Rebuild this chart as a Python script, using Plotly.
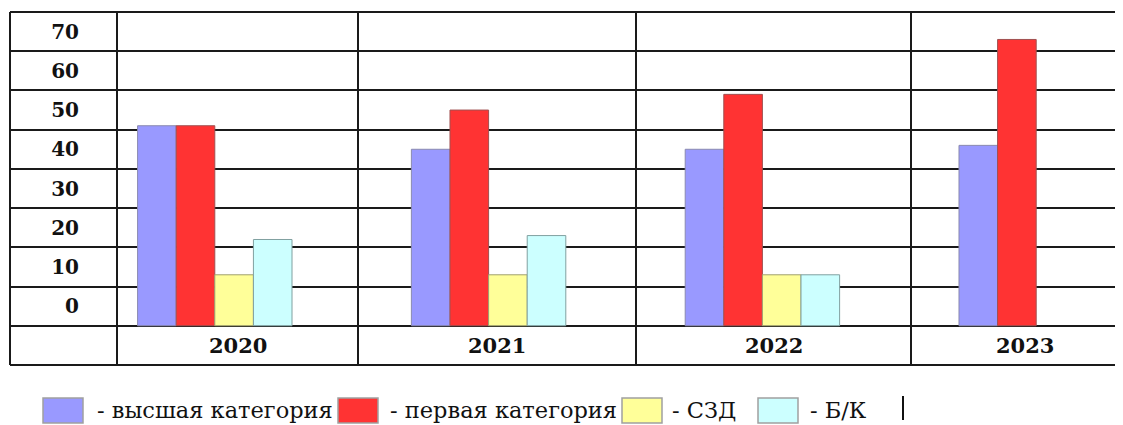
import plotly.graph_objects as go

# ---------------- data ----------------
categories = ["2020", "2021", "2022", "2023"]
series_names = ["высшая категория", "первая категория", "СЗД", "Б/К"]
vysshaya = [46, 40, 40, 41]
pervaya = [46, 50, 54, 68]
szd = [8, 8, 8, None]
bk = [17, 18, 8, None]
y_tick_values = [0, 10, 20, 30, 40, 50, 60, 70]

series_values = [vysshaya, pervaya, szd, bk]
colors = ["#9999FF", "#FF3333", "#FFFF99", "#CCFFFF"]
edge_colors = ["#8a8ab0", "#a05050", "#a0a070", "#80a0a0"]

# ---------------- layout geometry ----------------
# The page has an 8px body margin, so page pixel = figure pixel + OFF.
OFF = 8
PAGE_W, PAGE_H = 1123, 425
W, H = PAGE_W - OFF, PAGE_H - OFF
PLOT_LEFT, PLOT_TOP, PLOT_BOTTOM, PLOT_RIGHT = 10, 12, 365, 1123   # page pixels
L = PLOT_LEFT - OFF
T = PLOT_TOP - OFF
B = PAGE_H - PLOT_BOTTOM
R = PAGE_W - PLOT_RIGHT
PW = W - L - R
PH = H - T - B
BASE = -5          # bars start on the line under the "0" row


def px_x(px):
    return (px - PLOT_LEFT) / PW


def px_y(py):
    return (PLOT_BOTTOM - py) / PH


fig = go.Figure()
for name, vals, col, ec in zip(series_names, series_values, colors, edge_colors):
    fig.add_trace(go.Bar(
        x=categories,
        y=[None if v is None else v - BASE for v in vals],
        base=BASE,
        name=name,
        marker=dict(color=col, line=dict(color=ec, width=1)),
        customdata=vals,
        hovertemplate="%{x}: %{customdata}<extra>" + name + "</extra>",
    ))

grid_color = "#1a1a1a"
line_w = 2

# table lines (borders and column separators)
shapes = []
shapes.append(dict(type="line", xref="paper", yref="paper", x0=0, x1=1, y0=1, y1=1,
                   line=dict(color=grid_color, width=line_w)))
shapes.append(dict(type="line", xref="paper", yref="paper", x0=0, x1=1, y0=0, y1=0,
                   line=dict(color=grid_color, width=line_w)))
col_sep_px = [10, 117, 358, 636, 911]
for cx in col_sep_px:
    shapes.append(dict(type="line", xref="paper", yref="paper", x0=px_x(cx), x1=px_x(cx),
                       y0=0, y1=1, line=dict(color=grid_color, width=line_w)))

# year labels centred in the table cells of the bottom row
cell_edges_px = [117, 358, 636, 911, 1138]
annotations = []
for i, cat in enumerate(categories):
    cx = (cell_edges_px[i] + cell_edges_px[i + 1]) / 2
    annotations.append(dict(x=px_x(cx), xref="paper", y=-10, yref="y", text="<b>" + cat + "</b>",
                            showarrow=False, xanchor="center", yanchor="middle",
                            font=dict(family="DejaVu Serif", size=21, color="#111")))

# custom legend (large swatches, "- name")
swatch_x_px = [43, 338, 622, 758]
text_x_px = [95, 388, 670, 808]
sw_w, sw_top, sw_bot = 40, 398, 423
for i, name in enumerate(series_names):
    shapes.append(dict(type="rect", xref="paper", yref="paper",
                       x0=px_x(swatch_x_px[i]), x1=px_x(swatch_x_px[i] + sw_w),
                       y0=px_y(sw_bot), y1=px_y(sw_top),
                       fillcolor=colors[i], line=dict(color="#a0a0a0", width=1.5)))
    annotations.append(dict(x=px_x(text_x_px[i]), xref="paper", y=px_y(410), yref="paper",
                            text="- " + name, showarrow=False, xanchor="left", yanchor="middle",
                            font=dict(family="DejaVu Serif", size=22.5, color="#111")))
# text cursor mark after the legend
shapes.append(dict(type="line", xref="paper", yref="paper", x0=px_x(903), x1=px_x(903),
                   y0=px_y(420), y1=px_y(396), line=dict(color="#111", width=2)))

unit = 273.8      # category spacing in pixels
c0 = 214.8        # page x of the first category centre
fig.update_layout(
    width=W, height=H,
    margin=dict(l=L, r=R, t=T, b=B),
    paper_bgcolor="white", plot_bgcolor="white",
    barmode="group", bargap=0.436, bargroupgap=0,
    showlegend=False,
    shapes=shapes,
    annotations=annotations,
    xaxis=dict(type="category", categoryorder="array", categoryarray=categories,
               range=[(PLOT_LEFT - c0) / unit, (PLOT_RIGHT - c0) / unit],
               showticklabels=False, showgrid=False, showline=False, zeroline=False, ticks=""),
    yaxis=dict(range=[-15, 75], tickmode="array", tickvals=y_tick_values,
               ticktext=[str(v) for v in y_tick_values],
               anchor="free", position=px_x(79), side="left",
               showgrid=False, zeroline=False, showline=False, ticks="",
               tickfont=dict(family="DejaVu Serif", size=20, color="#111", weight="bold"),
               minor=dict(tickmode="array",
                          tickvals=[v + 5 for v in y_tick_values] + [y_tick_values[0] - 5],
                          showgrid=True, gridcolor=grid_color, gridwidth=line_w, ticks=""),
               automargin=False),
)

fig.write_html("out.html")
